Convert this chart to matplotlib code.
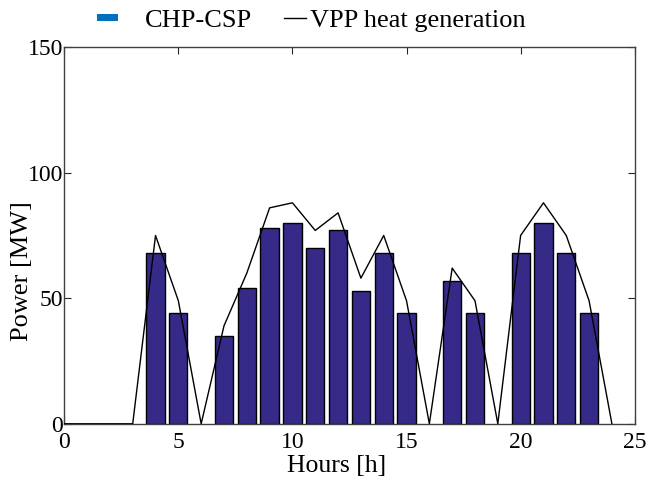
import matplotlib
matplotlib.use("Agg")
import matplotlib.pyplot as plt
from matplotlib.patches import Patch, Rectangle
from matplotlib.lines import Line2D

plt.rcParams['font.family'] = ['Liberation Serif', 'DejaVu Serif']

bar_hours = [4, 5, 7, 8, 9, 10, 11, 12, 13, 14, 15, 17, 18, 20, 21, 22, 23]
chp_csp = [68, 44, 35, 54, 78, 80, 70, 77, 53, 68, 44, 57, 44, 68, 80, 68, 44]

line_hours = list(range(0, 25))
vpp_heat = [0, 0, 0, 0, 75, 49, 0, 39, 60, 86, 88, 77, 84, 58, 75, 49, 0, 62, 49, 0, 75, 88, 75, 49, 0]

xticks = [0, 5, 10, 15, 20, 25]
yticks = [0, 50, 100, 150]

PT = 72.0 / 100.0  # points per pixel at dpi 100


class SmallPatchHandler:
    def legend_artist(self, legend, orig_handle, fontsize, handlebox):
        x0, y0 = handlebox.xdescent, handlebox.ydescent
        h = handlebox.height
        w = 21 * PT
        hh = 7 * PT
        r = Rectangle((x0, y0 + h / 2 - hh / 2), w, hh,
                      facecolor=orig_handle.get_facecolor(), edgecolor='none',
                      transform=handlebox.get_transform())
        handlebox.add_artist(r)
        return r


class RightLineHandler:
    def legend_artist(self, legend, orig_handle, fontsize, handlebox):
        x0, y0 = handlebox.xdescent, handlebox.ydescent
        w, h = handlebox.width, handlebox.height
        ln = Line2D([x0 + w - 26 * PT, x0 + w - 4 * PT], [y0 + h / 2, y0 + h / 2],
                    color=orig_handle.get_color(), linewidth=orig_handle.get_linewidth(),
                    transform=handlebox.get_transform())
        handlebox.add_artist(ln)
        return ln


fig = plt.figure(figsize=(6.49, 4.86), dpi=100)
ax = fig.add_axes([0.099, 0.128, 0.879, 0.775])

ax.bar(bar_hours, chp_csp, width=0.8, color='#352A87', edgecolor='black', linewidth=1.0, zorder=2)
ax.plot(line_hours, vpp_heat, color='black', linewidth=1.0, zorder=3)

ax.set_xlim(0, 25)
ax.set_ylim(0, 150)
ax.set_xticks(xticks)
ax.set_yticks(yticks)
ax.tick_params(direction='in', top=True, right=True, length=5, width=0.8,
               labelsize=17, colors='#262626', labelcolor='black')
ax.tick_params(axis='x', pad=6)
ax.tick_params(axis='y', pad=1)
for s in ax.spines.values():
    s.set_color('#404040')
    s.set_linewidth(1.0)

ax.set_xlabel('Hours [h]', fontsize=18.5)
ax.set_ylabel('Power [MW]', fontsize=19)
ax.xaxis.set_label_coords(0.478, -0.084)
ax.yaxis.set_label_coords(-0.055, 0.406)

patch_h = Patch(facecolor='#0072BD', edgecolor='none')
line_h = Line2D([], [], color='black', linewidth=1.0)
fig.legend([patch_h, line_h], ['CHP-CSP', 'VPP heat generation'], loc='center',
           bbox_to_anchor=(0.479, 0.958), ncol=2, frameon=False, fontsize=19,
           handlelength=1.82, handletextpad=0.0, columnspacing=0.37,
           handler_map={Patch: SmallPatchHandler(), Line2D: RightLineHandler()})

fig.savefig('out.png', dpi=100)
